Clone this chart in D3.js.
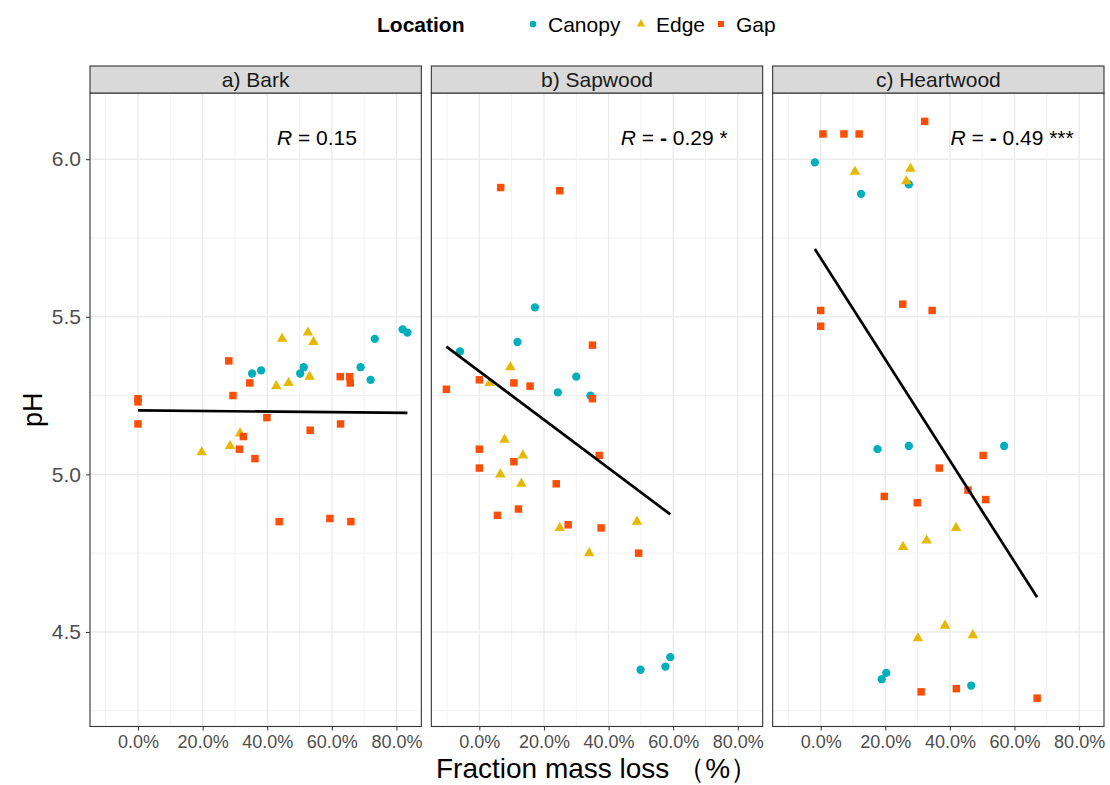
<!DOCTYPE html>
<html lang="en">
<head>
<meta charset="utf-8">
<script src="https://cdn.jsdelivr.net/npm/d3@7"></script>
<style>
  body { margin: 0; background: #ffffff; }
  text { font-family: "Liberation Sans", Arial, sans-serif; }
</style>
</head>
<body>
<script>
// facet titles, groups and colours
var panels = ["a) Bark", "b) Sapwood", "c) Heartwood"];
var locations = ["Canopy", "Edge", "Gap"];
var colors = ["#00AFBB", "#E7B800", "#FC4E07"];
var xTicks = [0, 0.2, 0.4, 0.6, 0.8];
var yTicks = [4.5, 5.0, 5.5, 6.0];

// points per tissue: [location, fraction mass loss, pH]
var bark = [
  ["Canopy", 0.353, 5.32], ["Canopy", 0.381, 5.33], ["Canopy", 0.502, 5.32], ["Canopy", 0.513, 5.34],
  ["Canopy", 0.689, 5.34], ["Canopy", 0.733, 5.43], ["Canopy", 0.720, 5.30], ["Canopy", 0.819, 5.46],
  ["Canopy", 0.834, 5.45],
  ["Edge", 0.446, 5.43], ["Edge", 0.526, 5.45], ["Edge", 0.543, 5.42], ["Edge", 0.531, 5.31],
  ["Edge", 0.428, 5.28], ["Edge", 0.466, 5.29], ["Edge", 0.316, 5.13], ["Edge", 0.285, 5.09],
  ["Edge", 0.197, 5.07],
  ["Gap", 0, 5.24], ["Gap", 0, 5.23], ["Gap", 0, 5.16], ["Gap", 0.281, 5.36], ["Gap", 0.294, 5.25],
  ["Gap", 0.346, 5.29], ["Gap", 0.626, 5.31], ["Gap", 0.655, 5.31], ["Gap", 0.657, 5.29],
  ["Gap", 0.399, 5.18], ["Gap", 0.533, 5.14], ["Gap", 0.627, 5.16], ["Gap", 0.326, 5.12],
  ["Gap", 0.314, 5.08], ["Gap", 0.362, 5.05], ["Gap", 0.437, 4.85], ["Gap", 0.594, 4.86],
  ["Gap", 0.659, 4.85]
];
var sapwood = [
  ["Canopy", 0.172, 5.53], ["Canopy", 0.118, 5.42], ["Canopy", -0.060, 5.39], ["Canopy", 0.300, 5.31],
  ["Canopy", 0.243, 5.26], ["Canopy", 0.344, 5.25], ["Canopy", 0.499, 4.38], ["Canopy", 0.576, 4.39],
  ["Canopy", 0.591, 4.42],
  ["Edge", 0.096, 5.34], ["Edge", 0.032, 5.29], ["Edge", 0.078, 5.11], ["Edge", 0.135, 5.06],
  ["Edge", 0.065, 5.00], ["Edge", 0.130, 4.97], ["Edge", 0.249, 4.83], ["Edge", 0.488, 4.85],
  ["Edge", 0.340, 4.75],
  ["Gap", 0.066, 5.91], ["Gap", 0.249, 5.90], ["Gap", 0.350, 5.41], ["Gap", 0, 5.30], ["Gap", 0.107, 5.29],
  ["Gap", 0.157, 5.28], ["Gap", -0.102, 5.27], ["Gap", 0.350, 5.24], ["Gap", 0, 5.08], ["Gap", 0.107, 5.04],
  ["Gap", 0, 5.02], ["Gap", 0.371, 5.06], ["Gap", 0.238, 4.97], ["Gap", 0.056, 4.87], ["Gap", 0.121, 4.89],
  ["Gap", 0.275, 4.84], ["Gap", 0.377, 4.83], ["Gap", 0.493, 4.75]
];
var heartwood = [
  ["Canopy", -0.018, 5.99], ["Canopy", 0.273, 5.92], ["Canopy", 0.125, 5.89], ["Canopy", 0.176, 5.08],
  ["Canopy", 0.273, 5.09], ["Canopy", 0.568, 5.09], ["Canopy", 0.203, 4.37], ["Canopy", 0.189, 4.35],
  ["Canopy", 0.466, 4.33],
  ["Edge", 0.106, 5.96], ["Edge", 0.278, 5.97], ["Edge", 0.265, 5.93], ["Edge", 0.419, 4.83],
  ["Edge", 0.328, 4.79], ["Edge", 0.255, 4.77], ["Edge", 0.385, 4.52], ["Edge", 0.301, 4.48],
  ["Edge", 0.471, 4.49],
  ["Gap", 0.007, 6.08], ["Gap", 0.072, 6.08], ["Gap", 0.119, 6.08], ["Gap", 0.322, 6.12], ["Gap", 0, 5.52],
  ["Gap", 0, 5.47], ["Gap", 0.254, 5.54], ["Gap", 0.345, 5.52], ["Gap", 0.503, 5.06], ["Gap", 0.367, 5.02],
  ["Gap", 0.456, 4.95], ["Gap", 0.511, 4.92], ["Gap", 0.197, 4.93], ["Gap", 0.299, 4.91],
  ["Gap", 0.311, 4.31], ["Gap", 0.420, 4.32], ["Gap", 0.670, 4.29]
];

// linear fits and correlation labels
var fitIntercept = [5.203, 5.327, 5.686];
var fitSlope = [-0.0096, -0.768, -1.606];
var rSign = ["", "-", "-"];
var rValue = ["0.15", "0.29 *", "0.49 ***"];
var rLabelX = [0.43, 0.438, 0.402];
var rLabelY = 6.045;

var panelData = [bark, sapwood, heartwood];

var W = 1110, H = 785;
var left = 90, right = 1104, gap = 10;
var pw = (right - left - 2 * gap) / 3;
var plotTop = 93, plotBottom = 726.5, stripTop = 66;

var svg = d3.select("body").append("svg")
  .attr("width", W)
  .attr("height", H);

var y = d3.scaleLinear().domain([4.2, 6.21]).range([plotBottom, plotTop]);
var color = d3.scaleOrdinal().domain(locations).range(colors);
var shape = d3.scaleOrdinal().domain(locations)
  .range([d3.symbolCircle, d3.symbolTriangle, d3.symbolSquare]);
var size = d3.scaleOrdinal().domain(locations).range([54, 48, 56]);

// minor gridlines sit halfway between major ticks
var xMinor = [-0.1, 0.1, 0.3, 0.5, 0.7];
var yMinor = [4.25, 4.75, 5.25, 5.75];

panels.forEach(function(name, p) {
  var x0 = left + p * (pw + gap);
  var x = d3.scaleLinear().domain([-0.1486, 0.877]).range([x0, x0 + pw]);
  var g = svg.append("g");

  // panel background and grid
  g.append("rect").attr("x", x0).attr("y", plotTop)
    .attr("width", pw).attr("height", plotBottom - plotTop).attr("fill", "#fff");

  g.selectAll(".xminor").data(xMinor).enter().append("line")
    .attr("x1", d => x(d)).attr("x2", d => x(d))
    .attr("y1", plotTop).attr("y2", plotBottom)
    .attr("stroke", "#f2f2f2").attr("stroke-width", 1);
  g.selectAll(".yminor").data(yMinor).enter().append("line")
    .attr("x1", x0).attr("x2", x0 + pw)
    .attr("y1", d => y(d)).attr("y2", d => y(d))
    .attr("stroke", "#f2f2f2").attr("stroke-width", 1);
  g.selectAll(".xmajor").data(xTicks).enter().append("line")
    .attr("x1", d => x(d)).attr("x2", d => x(d))
    .attr("y1", plotTop).attr("y2", plotBottom)
    .attr("stroke", "#ebebeb").attr("stroke-width", 1.4);
  g.selectAll(".ymajor").data(yTicks).enter().append("line")
    .attr("x1", x0).attr("x2", x0 + pw)
    .attr("y1", d => y(d)).attr("y2", d => y(d))
    .attr("stroke", "#ebebeb").attr("stroke-width", 1.4);

  // points, drawn in group order so Gap sits on top
  var pts = panelData[p];
  g.selectAll(".pt").data(pts).enter().append("path")
    .attr("d", d => d3.symbol().type(shape(d[0])).size(size(d[0]))())
    .attr("transform", d => "translate(" + x(d[1]) + "," + y(d[2]) + ")")
    .attr("fill", d => color(d[0]));

  // regression line over the data range
  var ext = d3.extent(pts, d => d[1]);
  g.append("line")
    .attr("x1", x(ext[0])).attr("y1", y(fitIntercept[p] + fitSlope[p] * ext[0]))
    .attr("x2", x(ext[1])).attr("y2", y(fitIntercept[p] + fitSlope[p] * ext[1]))
    .attr("stroke", "#000").attr("stroke-width", 2.7);

  // R label
  var lab = g.append("text")
    .attr("x", x(rLabelX[p])).attr("y", y(rLabelY))
    .attr("font-size", 21).attr("fill", "#000");
  lab.append("tspan").attr("font-style", "italic").text("R");
  lab.append("tspan").text(" = ");
  if (rSign[p]) {
    lab.append("tspan").attr("font-weight", "bold").text(rSign[p]);
    lab.append("tspan").text(" " + rValue[p]);
  } else {
    lab.append("tspan").text(rValue[p]);
  }

  // panel border
  g.append("rect").attr("x", x0).attr("y", plotTop)
    .attr("width", pw).attr("height", plotBottom - plotTop)
    .attr("fill", "none").attr("stroke", "#333").attr("stroke-width", 1.1);

  // strip
  g.append("rect").attr("x", x0).attr("y", stripTop)
    .attr("width", pw).attr("height", plotTop - stripTop)
    .attr("fill", "#d9d9d9").attr("stroke", "#333").attr("stroke-width", 1.1);
  g.append("text")
    .attr("x", x0 + pw / 2).attr("y", (stripTop + plotTop) / 2 + 7)
    .attr("text-anchor", "middle").attr("font-size", 21).attr("fill", "#1a1a1a")
    .text(name);

  // x axis
  var xAxis = g.append("g")
    .attr("transform", "translate(0," + plotBottom + ")")
    .call(d3.axisBottom(x).tickValues(xTicks).tickFormat(d3.format(".1%")).tickSize(4).tickPadding(5));
  xAxis.select(".domain").remove();
  xAxis.selectAll("line").attr("stroke", "#333");
  xAxis.selectAll("text").attr("fill", "#4d4d4d").attr("font-size", 18)
    .style("font-family", "'Liberation Sans', Arial, sans-serif");

  if (p === 0) {
    var yAxis = g.append("g")
      .attr("transform", "translate(" + x0 + ",0)")
      .call(d3.axisLeft(y).tickValues(yTicks).tickFormat(d3.format(".1f")).tickSize(4).tickPadding(5));
    yAxis.select(".domain").remove();
    yAxis.selectAll("line").attr("stroke", "#333");
    yAxis.selectAll("text").attr("fill", "#4d4d4d").attr("font-size", 21)
      .style("font-family", "'Liberation Sans', Arial, sans-serif");
  }
});

// axis titles
svg.append("text")
  .attr("x", (left + right) / 2).attr("y", 778)
  .attr("text-anchor", "middle").attr("font-size", 28).attr("fill", "#000")
  .text("Fraction mass loss （%）");

svg.append("text")
  .attr("transform", "translate(42," + (plotTop + plotBottom) / 2 + ") rotate(-90)")
  .attr("text-anchor", "middle").attr("font-size", 27).attr("fill", "#000")
  .text("pH");

// legend on top
var legend = svg.append("g").attr("transform", "translate(377,24)");
legend.append("text").attr("x", 0).attr("y", 7.5)
  .attr("font-size", 21).attr("font-weight", "bold").attr("fill", "#000")
  .text("Location");
var lx = 156;
var offsets = [0, 108, 188];
locations.forEach(function(loc, i) {
  var item = legend.append("g").attr("transform", "translate(" + (lx + offsets[i]) + ",0)");
  item.append("path")
    .attr("d", d3.symbol().type(shape(loc)).size(size(loc) * 0.65)())
    .attr("fill", color(loc));
  item.append("text").attr("x", 15).attr("y", 7.5)
    .attr("font-size", 21).attr("fill", "#000")
    .text(loc);
});
</script>
</body>
</html>
